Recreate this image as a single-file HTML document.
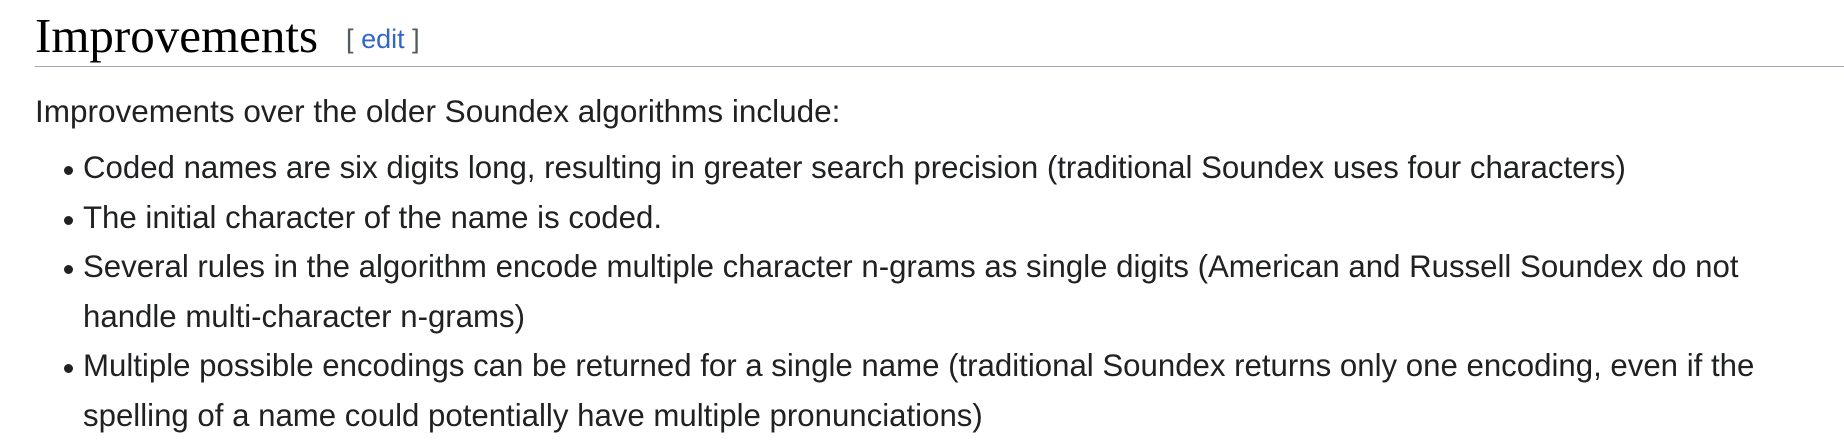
<!DOCTYPE html>
<html><head><style>
body{margin:0;width:1844px;height:447px;background:#fff;font-family:"Liberation Sans",sans-serif;color:#202122;overflow:hidden;position:relative}
h2{position:absolute;left:35px;top:4px;margin:0;font-family:"Liberation Serif",serif;font-weight:normal;font-size:49px;color:#000;line-height:1.3}
.edit{font-family:"Liberation Sans",sans-serif;font-size:27px;color:#54595d;margin-left:28px;vertical-align:4px}
.edit a{color:#3366cc}
.rule{position:absolute;left:35px;right:0;top:66px;height:1px;background:#a2a9b1}
p{position:absolute;left:35px;top:86px;margin:0;font-size:31.5px;line-height:50px}
ul{position:absolute;left:83px;top:143px;margin:0;padding:0;list-style:none;font-size:31.2px;line-height:49.5px;width:1750px}
li{position:relative}
li:before{content:"";position:absolute;left:-19px;top:23px;width:9px;height:9px;border-radius:50%;background:#202122}
</style></head><body>
<h2>Improvements<span class="edit">[ <a>edit</a> ]</span></h2>
<div class="rule"></div>
<p>Improvements over the older Soundex algorithms include:</p>
<ul>
<li>Coded names are six digits long, resulting in greater search precision (traditional Soundex uses four characters)</li>
<li>The initial character of the name is coded.</li>
<li>Several rules in the algorithm encode multiple character n-grams as single digits (American and Russell Soundex do not<br>handle multi-character n-grams)</li>
<li>Multiple possible encodings can be returned for a single name (traditional Soundex returns only one encoding, even if the<br>spelling of a name could potentially have multiple pronunciations)</li>
</ul>
</body></html>
